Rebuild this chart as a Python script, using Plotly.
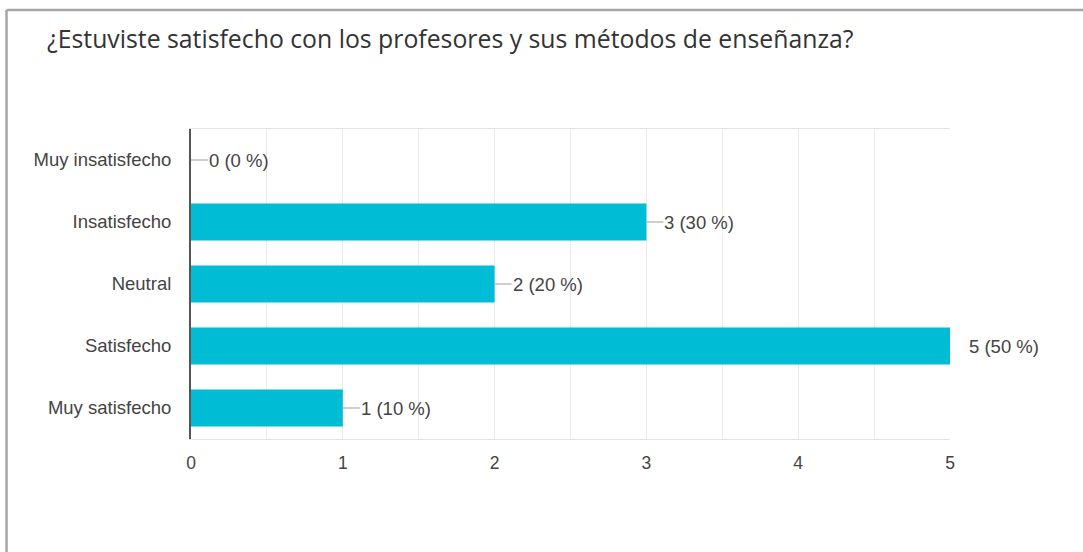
import plotly.graph_objects as go

title = "¿Estuviste satisfecho con los profesores y sus métodos de enseñanza?"
categories = ["Muy insatisfecho", "Insatisfecho", "Neutral", "Satisfecho", "Muy satisfecho"]
counts = [0, 3, 2, 5, 1]
percents = [0, 30, 20, 50, 10]
x_ticks = [0, 1, 2, 3, 4, 5]

W, H = 1083, 552
L, R, T, B = 191, 133, 129, 113
pw, ph = W - L - R, H - T - B

BAR = "#00BCD4"
TXT = "#444444"

fig = go.Figure()
fig.add_trace(go.Bar(
    x=counts, y=categories, orientation="h",
    marker=dict(color=BAR, line=dict(width=0)),
    width=0.6, hoverinfo="skip",
))

xmax = max(x_ticks)
for c, v, p in zip(categories, counts, percents):
    at_max = v >= xmax
    fig.add_annotation(
        x=v, y=c, xref="x", yref="y",
        text=f"{v} ({p} %)",
        showarrow=not at_max,
        ax=17, ay=0, arrowhead=0, arrowwidth=1.2, arrowcolor="#9e9e9e", standoff=0,
        xanchor="left", xshift=(18 if at_max else 0),
        font=dict(family="Liberation Sans, Arial", size=18.5, color=TXT),
        borderpad=0,
    )

# outer frame (left and top edge of the card)
fx0 = (6.5 - L) / pw
fy1 = (H - B - 10) / ph
fig.add_shape(type="line", xref="paper", yref="paper", x0=fx0, x1=(W + 5 - L) / pw, y0=fy1, y1=fy1,
              line=dict(color="#a6a6a6", width=2.5))
fig.add_shape(type="line", xref="paper", yref="paper", x0=fx0, x1=fx0, y0=fy1, y1=-(B + 5) / ph,
              line=dict(color="#a6a6a6", width=2.5))

fig.update_layout(
    width=W, height=H,
    margin=dict(l=L, r=R, t=T, b=B, pad=0),
    paper_bgcolor="white", plot_bgcolor="white",
    showlegend=False,
    bargap=0.4,
    title=dict(text=title, x=47 / W, xanchor="left", y=1 - 39 / H, yanchor="middle",
               font=dict(family="Open Sans, Roboto, sans-serif", size=24.8, color="#333333")),
    font=dict(family="Liberation Sans, Arial", size=18, color=TXT),
)
fig.update_xaxes(
    range=[0, xmax], tickvals=x_ticks, ticktext=[str(t) for t in x_ticks],
    showgrid=True, gridcolor="#ebebeb", gridwidth=1,
    minor=dict(dtick=0.5, showgrid=True, gridcolor="#ebebeb"),
    showline=True, linecolor="#e3e3e3", linewidth=1, mirror=True,
    zeroline=False, ticks="", ticklabelstandoff=8,
    tickfont=dict(size=17.5, color=TXT), fixedrange=True,
)
fig.update_yaxes(
    categoryorder="array", categoryarray=categories, autorange="reversed",
    showline=True, linecolor="#555555", linewidth=2,
    showgrid=False, zeroline=False, ticks="", ticklabelstandoff=14,
    tickfont=dict(size=18.5, color=TXT), fixedrange=True,
)

fig.write_html("out.html", config={"displayModeBar": False},
               post_script="document.body.style.margin='0';")
